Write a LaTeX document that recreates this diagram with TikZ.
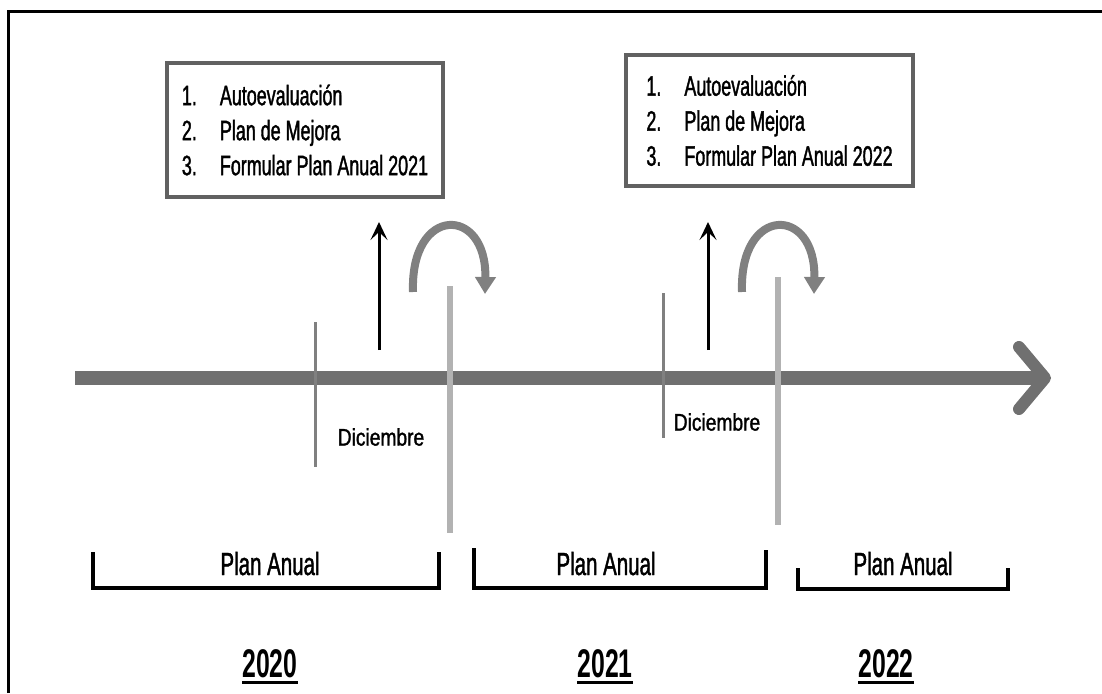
\documentclass[tikz,border=0pt]{standalone}
\usepackage{fontspec}
\setmainfont{Liberation Sans}
\newfontfamily\narrowfont[FakeStretch=0.64,FakeBold=1.3]{Liberation Sans}
\newfontfamily\decfont[FakeStretch=0.8,FakeBold=1.3]{Liberation Sans}
\newfontfamily\yearfont[FakeStretch=0.62]{Liberation Sans}
\usetikzlibrary{
	positioning
	,arrows.meta
}
\definecolor{axisgray}{gray}{0.44}
\definecolor{tickgray}{gray}{0.5}
\definecolor{palegray}{gray}{0.7}
\definecolor{boxgray}{gray}{0.38}
\definecolor{loopgray}{gray}{0.5}
\tikzset{
	timeaxis/.style={
		line width=14pt
		,axisgray
	}
	,axishead/.style={
		line width=12pt
		,axisgray
		,line cap=round
		,line join=round
	}
	,dectick/.style={line width=3pt, tickgray}
	,yearmark/.style={line width=6pt, palegray}
	,uparrow/.style={
		line width=3pt
		,black
		,-{Stealth[length=18pt,width=17pt,inset=8pt]}
	}
	,looparrow/.style={
		line width=8pt
		,loopgray
		,-{Triangle[length=17pt,width=20pt]}
	}
	,taskbox/.style={
		draw=boxgray
		,line width=4pt
		,inner sep=0pt
		,align=left
		,font=\narrowfont\fontsize{28}{35}\selectfont
	}
	,declabel/.style={font=\decfont\fontsize{24}{28}\selectfont}
	,planlabel/.style={anchor=base, inner sep=0pt, font=\narrowfont\fontsize{32}{36}\selectfont}
	,yearlabel/.style={anchor=base, inner sep=0pt, font=\yearfont\bfseries\fontsize{40}{44}\selectfont}
	,period/.style={line width=4pt, black, line join=miter}
	,underbar/.style={line width=3pt, black}
	,frameline/.style={line width=3pt, black}
}
\newcommand{\taskitem}[2]{\makebox[38pt][l]{#1}#2}

\begin{document}
\begin{tikzpicture}[x=1pt, y=-1pt]
\useasboundingbox (0,0) rectangle (1102,693);
\draw[frameline] (8,693) -- (8,12) -- (1102,12);

% time axis
\coordinate (axstart) at (75,378);
\coordinate (axend) at (1045,378);
\draw[timeaxis] (axstart) -- (axend);
\draw[axishead] (1019,347) -- (axend) -- (1019,409);

% december ticks and year change
\draw[dectick] (315,322) -- (315,467);
\draw[dectick] (663,293) -- (663,438);
\draw[yearmark] (450,286) -- (450,533);
\draw[yearmark] (778,277) -- (778,525);

\node[declabel] (dec1) at (381,437) {Diciembre};
\node[declabel] (dec2) at (717,422) {Diciembre};

% tasks
\node[taskbox, minimum width=276pt, minimum height=134pt] (tasks1) at (305,130)
	{\taskitem{1.}{Autoevaluación}\\\taskitem{2.}{Plan de Mejora}\\\taskitem{3.}{Formular Plan Anual 2021}};
\node[taskbox, minimum width=287pt, minimum height=131pt] (tasks2) at (769.5,120.5)
	{\taskitem{1.}{Autoevaluación}\\\taskitem{2.}{Plan de Mejora}\\\taskitem{3.}{Formular Plan Anual 2022}};

\coordinate (up1) at (379,350);
\coordinate (up2) at (708,350);
\draw[uparrow] (up1) -- (379,222);
\draw[uparrow] (up2) -- (708,222);

\coordinate (loop1) at (413,292);
\coordinate (loop2) at (742,292);
\draw[looparrow] (loop1) .. controls (410,205) and (487,205) .. (485,294);
\draw[looparrow] (loop2) .. controls (739,205) and (816,205) .. (814,294);

% plan periods
\draw[period] (93,552) -- (93,588) -- (439,588) -- (439,552);
\draw[period] (474,548) -- (474,588) -- (766,588) -- (766,550);
\draw[period] (798,568) -- (798,589) -- (1008,589) -- (1008,568);
\node[planlabel] (plan1) at (270,575) {Plan Anual};
\node[planlabel] (plan2) at (606,575) {Plan Anual};
\node[planlabel] (plan3) at (903,575) {Plan Anual};

\node[yearlabel] (y2020) at (270,677) {2020};
\node[yearlabel] (y2021) at (605,677) {2021};
\node[yearlabel] (y2022) at (886,677) {2022};
\foreach \yr in {y2020,y2021,y2022}
	\draw[underbar] ([yshift=-5pt]\yr.south west) -- ([yshift=-5pt]\yr.south east);
\end{tikzpicture}
\end{document}
